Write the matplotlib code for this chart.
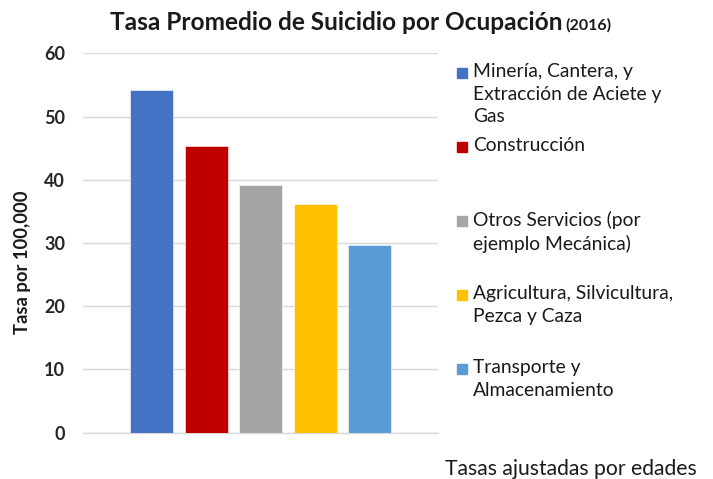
import matplotlib
matplotlib.use("Agg")
import matplotlib.pyplot as plt
from matplotlib.patches import Rectangle

plt.rcParams['font.family'] = ['Lato', 'DejaVu Sans']

# data
categorias = [
    "Minería, Cantera, y\nExtracción de Aciete y\nGas",
    "Construcción",
    "Otros Servicios (por\nejemplo Mecánica)",
    "Agricultura, Silvicultura,\nPezca y Caza",
    "Transporte y\nAlmacenamiento",
]
tasas = [54.2, 45.4, 39.1, 36.1, 29.7]
colores = ["#4472C4", "#C00000", "#A5A5A5", "#FFC000", "#5B9BD5"]
yticks = [0, 10, 20, 30, 40, 50, 60]

W, H = 713, 479
fig = plt.figure(figsize=(W / 100, H / 100), dpi=100)


def fx(px):
    return px / W


def fy(py):
    return 1 - py / H


ax = fig.add_axes([fx(83.3), fy(432.7), fx(437.7 - 83.3), (432.7 - 53.3) / H])
xs = list(range(len(tasas)))
ax.bar(xs, tasas, width=0.79, color=colores, zorder=3,
       edgecolor='white', linewidth=0.4)
ax.set_xlim(-1.26, 5.25)
ax.set_ylim(0, 60)
ax.set_yticks(yticks)
ax.set_xticks([])
ax.grid(axis='y', color='#d9d9d9', linewidth=1, zorder=0)
for s in ['top', 'right', 'left']:
    ax.spines[s].set_visible(False)
ax.spines['bottom'].set_color('#d9d9d9')
ax.spines['bottom'].set_linewidth(1)
ax.tick_params(axis='y', length=0, pad=13, labelsize=13)
for lbl in ax.get_yticklabels():
    lbl.set_fontweight('bold')
    lbl.set_color('#262626')
fig.text(fx(23), fy(262), "Tasa por 100,000", rotation=90, ha='center', va='center',
         fontsize=13.2, fontweight='bold', color='#1a1a1a')

# title
t1 = fig.text(fx(110), fy(30), "Tasa Promedio de Suicidio por Ocupación",
              fontsize=17.6, fontweight='bold', va='baseline', ha='left', color='#1a1a1a')
fig.canvas.draw()
bb = t1.get_window_extent()
fig.text((bb.x1 + 3) / W, fy(30), "(2016)", fontsize=11.5, fontweight='bold',
         va='baseline', ha='left', color='#1a1a1a')

# legend
for i, (lab, col) in enumerate(zip(categorias, colores)):
    yc = 73.3 + i * 74
    fig.add_artist(Rectangle((fx(456.7), fy(yc + 5)), fx(10), 10 / H, color=col,
                             transform=fig.transFigure))
    fig.text(fx(472.7), fy(yc - 10), lab, fontsize=13.9, va='top', ha='left',
             linespacing=1.38, color='#1a1a1a')

fig.text(fx(445), fy(475), "Tasas ajustadas por edades", fontsize=15.2,
         va='baseline', ha='left', color='#1a1a1a')

fig.savefig("out.png", dpi=100)
